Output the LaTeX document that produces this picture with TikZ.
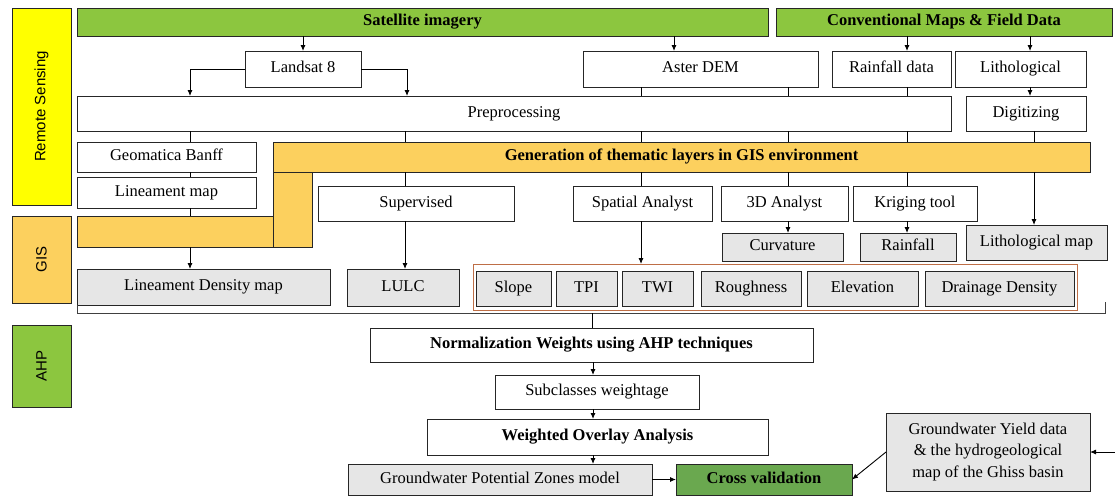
\documentclass[tikz,border=0pt]{standalone}
\usepackage{fontspec}
\setmainfont{Liberation Serif}
\newfontfamily\lsans{Liberation Sans}
\usetikzlibrary{arrows.meta}
\definecolor{satgreen}{RGB}{140,198,63}
\definecolor{cvgreen}{RGB}{106,168,79}
\definecolor{genyellow}{RGB}{252,208,94}
\definecolor{rsyellow}{RGB}{255,255,0}
\definecolor{grayfill}{RGB}{230,230,230}
\definecolor{grpline}{RGB}{190,110,70}
\newcommand\mkbox[7]{%
 \pgfmathsetmacro\mbcx{(#3+#5)/2}%
 \pgfmathsetmacro\mbcy{(#4+#6)/2}%
 \pgfmathsetmacro\mbw{#5-#3}%
 \pgfmathsetmacro\mbh{#6-#4}%
 \node[#1,minimum width=\mbw pt,minimum height=\mbh pt] (#2) at (\mbcx,\mbcy) {#7};}
\begin{document}
\begin{tikzpicture}[x=1pt,y=-1pt,
  plainbox/.style={draw=black!85,line width=0.9pt,fill=white,inner sep=0pt,outer sep=0pt,
    font=\fontsize{16.5}{19}\selectfont,align=center},
  box/.style={plainbox,text height=11pt,text depth=3.5pt},
  gbox/.style={box,fill=grayfill},
  bbox/.style={box,font=\fontsize{16.5}{19}\selectfont\bfseries},
  side/.style={box},
  sidetext/.style={rotate=90,font=\lsans\fontsize{15}{17}\selectfont},
  grpbox/.style={draw=grpline,line width=1pt,fill=white,inner sep=0pt,outer sep=0pt},
  conn/.style={draw=black,line width=0.9pt},
  arr/.style={conn,-{Latex[length=6pt,width=5pt]}}]
\useasboundingbox (0,0) rectangle (1115,496);
% side labels
\mkbox{side,fill=rsyellow}{rs}{12}{8}{71}{205}{}
\node[sidetext] (rst) at (rs) {Remote Sensing};
\mkbox{side,fill=genyellow}{gis}{12}{216}{71}{303}{}
\node[sidetext] (gist) at (gis) {GIS};
\mkbox{side,fill=satgreen}{ahp}{12}{325}{71}{407}{}
\node[sidetext] (ahpt) at (ahp) {AHP};
% top bars
\mkbox{bbox,fill=satgreen}{sat}{77}{8}{768}{36}{Satellite imagery}
\mkbox{bbox,fill=satgreen}{conv}{776}{8}{1112}{36}{Conventional Maps \& Field Data}
% second row
\mkbox{box}{lan}{245}{51}{361}{87}{Landsat 8}
\mkbox{box}{dem}{583}{51}{818}{87}{Aster DEM}
\mkbox{box}{rain}{832}{51}{951}{87}{Rainfall data}
\mkbox{box}{lith}{955}{51}{1086}{87}{Lithological}
\mkbox{box}{pre}{77}{96}{951}{131}{Preprocessing}
\mkbox{box}{dig}{966}{96}{1086}{131}{Digitizing}
% generation bar (L-shape)
\mkbox{box,fill=genyellow}{hs}{77}{216}{273}{247}{}
\mkbox{box,fill=genyellow}{vs}{273}{172}{312}{247}{}
\mkbox{bbox,fill=genyellow}{gen}{273}{142}{1090}{172}{Generation of thematic layers in GIS environment}
\mkbox{box}{geo}{77}{142}{256}{172}{Geomatica Banff}
\mkbox{box}{lin}{77}{177}{256}{208}{Lineament map}
% tools
\mkbox{box}{sup}{318}{186}{514}{221}{Supervised}
\mkbox{box}{spa}{573}{186}{712}{221}{Spatial Analyst}
\mkbox{box}{td}{721}{186}{848}{221}{3D Analyst}
\mkbox{box}{kri}{853}{186}{977}{221}{Kriging tool}
\mkbox{gbox}{cur}{722}{233}{843}{261}{Curvature}
\mkbox{gbox}{rnf}{860}{233}{956}{261}{Rainfall}
\mkbox{gbox}{lmap}{966}{225}{1107}{260}{Lithological map}
\mkbox{gbox}{ldm}{77}{269}{330}{305}{Lineament Density map}
\mkbox{gbox}{lulc}{347}{269}{459}{306}{LULC}
% group
\mkbox{grpbox}{grp}{473}{264}{1077}{310}{}
\mkbox{gbox}{slope}{476}{271}{551}{306}{Slope}
\mkbox{gbox}{tpi}{556}{271}{617}{306}{TPI}
\mkbox{gbox}{twi}{622}{271}{693}{306}{TWI}
\mkbox{gbox}{rough}{701}{271}{801}{306}{Roughness}
\mkbox{gbox}{elev}{807}{271}{918}{306}{Elevation}
\mkbox{gbox}{dd}{925}{271}{1074}{306}{Drainage Density}
% AHP part
\mkbox{bbox}{norm}{370}{328}{813}{362}{Normalization Weights using AHP techniques}
\mkbox{box}{sub}{495}{375}{699}{409}{Subclasses weightage}
\mkbox{bbox}{wo}{427}{419}{768}{455}{Weighted Overlay Analysis}
\mkbox{gbox}{gpz}{348}{464}{652}{495}{Groundwater Potential Zones model}
\mkbox{bbox,fill=cvgreen}{cv}{676}{464}{852}{495}{Cross validation}
\mkbox{plainbox,fill=grayfill,font=\fontsize{16.5}{21.5}\selectfont}{gyd}{886}{413}{1090}{491}{Groundwater Yield data\\\& the hydrogeological\\map of the Ghiss basin}
% guide coordinates
\coordinate (g190) at (190,0);
\coordinate (g405) at (405,0);
\coordinate (g407) at (407,0);
\coordinate (g592) at (592,0);
\coordinate (g593) at (593,0);
\coordinate (g641) at (641,0);
\coordinate (g674) at (674,0);
\coordinate (g788) at (788,0);
\coordinate (g907) at (907,0);
\coordinate (g1030) at (1030,0);
\coordinate (g1034) at (1034,0);
\coordinate (brR) at (1105,313);
\coordinate (brT) at (1105,302);
\coordinate (rin) at (1115,452);
% connectors
\draw[arr] (sat.south -| lan) -- (lan.north);
\draw[arr] (sat.south -| g674) -- (dem.north -| g674);
\draw[arr] (conv.south -| g907) -- (rain.north -| g907);
\draw[arr] (conv.south -| g1030) -- (lith.north -| g1030);
\draw[arr] (lan.west) -| (pre.north -| g190);
\draw[arr] (lan.east) -| (pre.north -| g407);
\draw[conn] (dem.south -| g641) -- (pre.north -| g641);
\draw[conn] (dem.south -| g788) -- (pre.north -| g788);
\draw[conn] (rain.south -| g907) -- (pre.north -| g907);
\draw[arr] (lith.south -| g1030) -- (dig.north -| g1030);
\draw[conn] (pre.south -| g190) -- (geo.north -| g190);
\foreach \g in {g405,g641,g788,g907} \draw[conn] (pre.south -| \g) -- (gen.north -| \g);
\draw[conn] (dig.south -| g1034) -- (gen.north -| g1034);
\draw[conn] (geo.south -| g190) -- (lin.north -| g190);
\draw[conn] (lin.south -| g190) -- (hs.north -| g190);
\draw[arr] (hs.south -| g190) -- (ldm.north -| g190);
\draw[conn] (gen.south -| g405) -- (sup.north -| g405);
\draw[arr] (sup.south -| g405) -- (lulc.north -| g405);
\draw[conn] (gen.south -| g641) -- (spa.north -| g641);
\draw[arr] (spa.south -| g641) -- (grp.north -| g641);
\draw[conn] (gen.south -| g788) -- (td.north -| g788);
\draw[arr] (td.south -| g788) -- (cur.north -| g788);
\draw[conn] (gen.south -| g907) -- (kri.north -| g907);
\draw[arr] (kri.south -| g907) -- (rnf.north -| g907);
\draw[arr] (gen.south -| g1034) -- (lmap.north -| g1034);
\draw[conn,draw=black!75] (ldm.south west) |- (brR) -- (brT);
\draw[conn] (brR -| g592) -- (norm.north -| g592);
\draw[arr] (norm.south -| g593) -- (sub.north -| g593);
\draw[arr] (sub.south -| g593) -- (wo.north -| g593);
\draw[arr] (wo.south -| g593) -- (gpz.north -| g593);
\draw[arr] (gpz.east) -- (cv.west);
\draw[arr] (gyd.west) -- (cv.east);
\draw[arr] (rin) -- (gyd.east);
\end{tikzpicture}
\end{document}
